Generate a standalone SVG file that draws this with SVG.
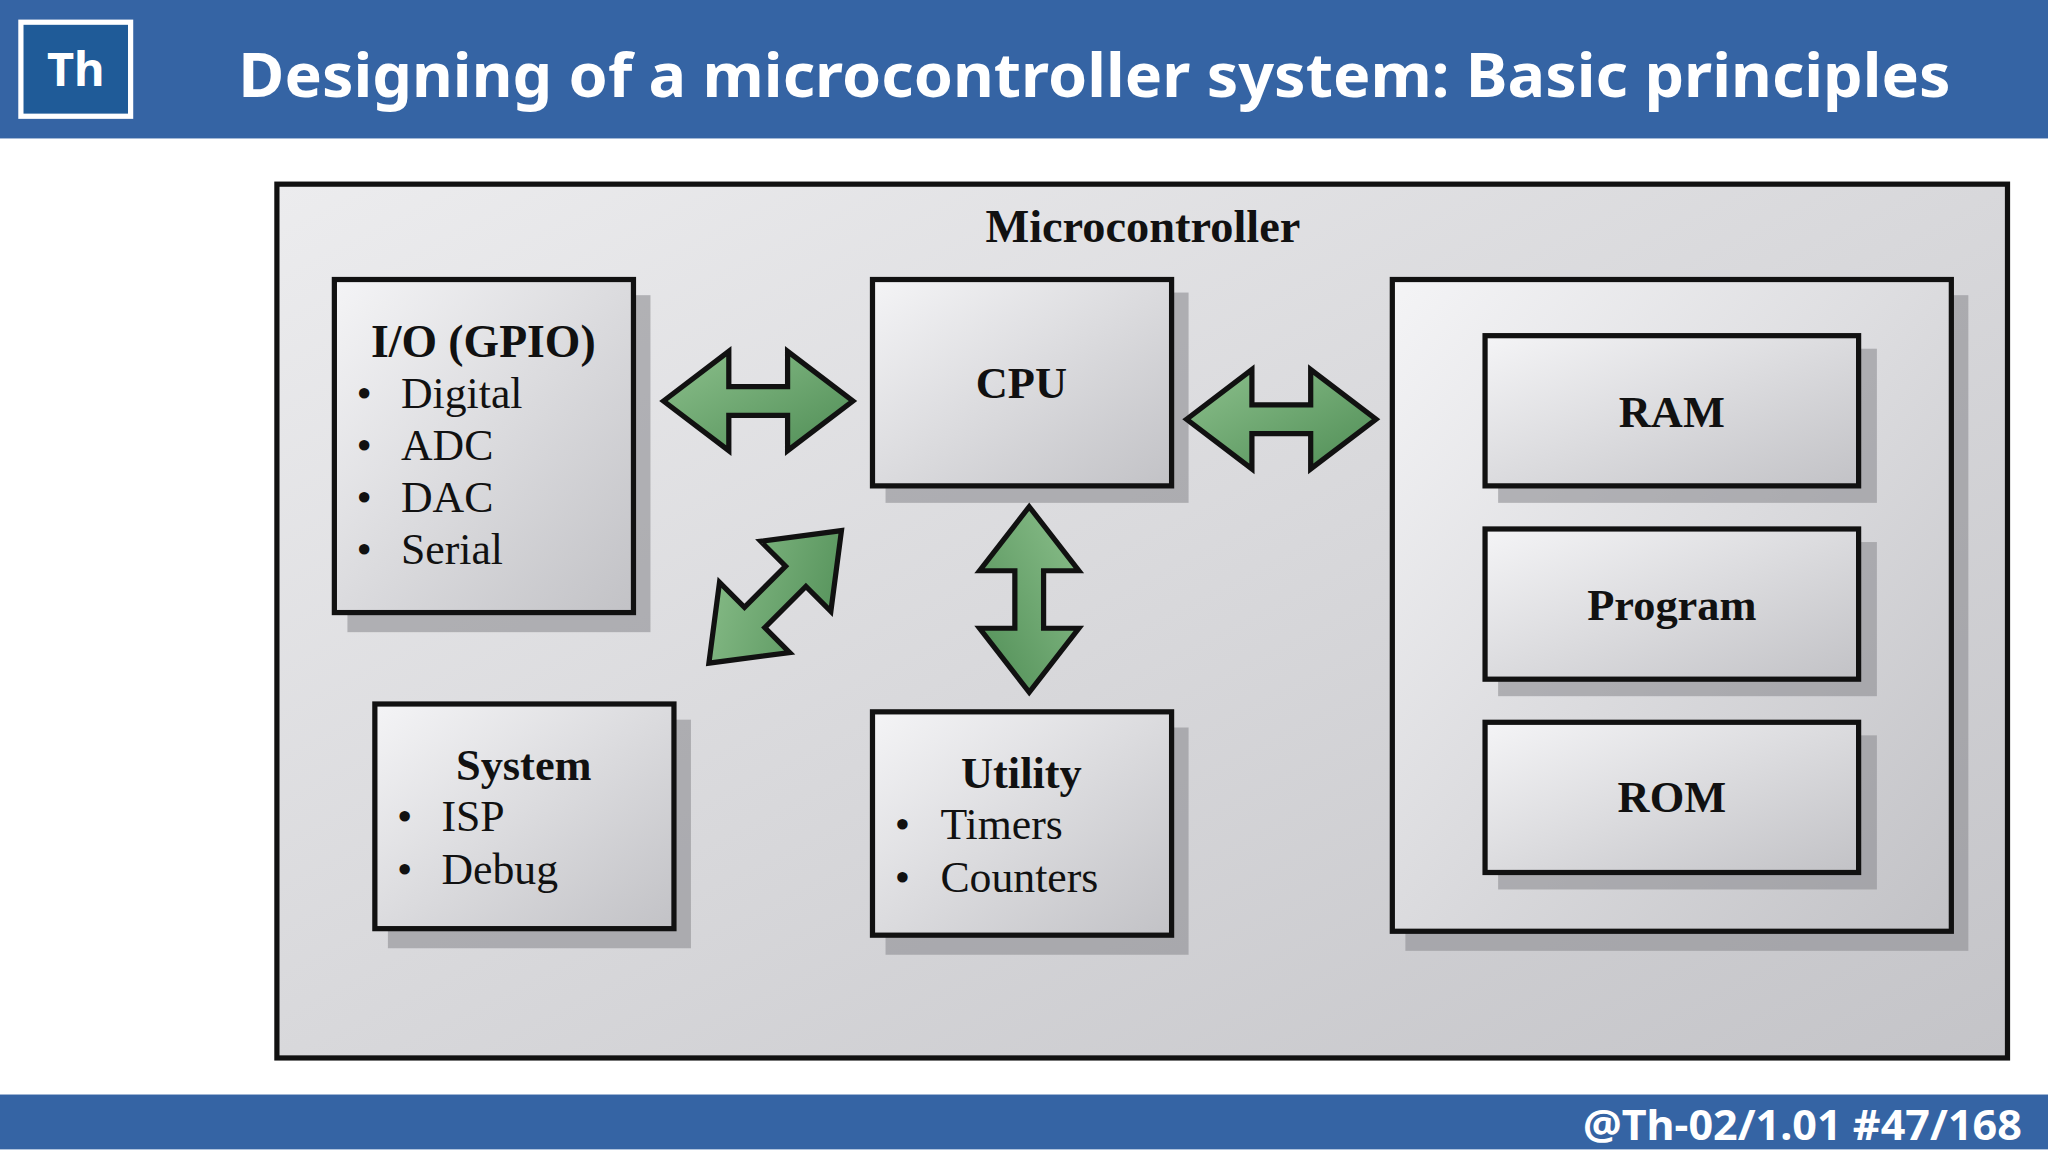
<svg xmlns="http://www.w3.org/2000/svg" width="2048" height="1150" viewBox="0 0 2048 1150">
<defs>
<linearGradient id="bg" x1="0" y1="0" x2="1" y2="1"><stop offset="0" stop-color="#ececee"/><stop offset="1" stop-color="#c4c4c8"/></linearGradient>
<linearGradient id="bx" x1="0" y1="0" x2="1" y2="1"><stop offset="0" stop-color="#f4f4f6"/><stop offset="1" stop-color="#c2c2c6"/></linearGradient>
<linearGradient id="gr" x1="0" y1="0" x2="1" y2="1"><stop offset="0" stop-color="#8cc08c"/><stop offset="1" stop-color="#4f8d55"/></linearGradient>
<path id="arr" d="M-72.5,0 L-22.5,-38 L-22.5,-11 L22.5,-11 L22.5,-38 L72.5,0 L22.5,38 L22.5,11 L-22.5,11 L-22.5,38 Z"/>
<style>
.box{fill:url(#bx);stroke:#111;stroke-width:4}
.sh{fill:#8e8e92;opacity:0.6}
.a{fill:url(#gr);stroke:#111;stroke-width:4;stroke-linejoin:miter}
.h{font-family:"Liberation Serif",serif;font-weight:bold;font-size:34px;fill:#111;text-anchor:middle}
.t{font-family:"Liberation Serif",serif;font-size:33.5px;fill:#111}
</style>
</defs>
<g transform="scale(1.30612)">
<rect width="1568" height="880" fill="#fff"/>
<g id="header">
<rect x="0" y="0" width="1568" height="106" fill="#3564a4"/>
<rect x="16" y="17" width="84" height="72" fill="#1f5b98" stroke="#fff" stroke-width="4"/>
<text x="58" y="66" font-family="Noto Sans,sans-serif" font-weight="bold" font-size="36" fill="#fff" text-anchor="middle">Th</text>
<text x="838" y="74" font-family="Noto Sans,sans-serif" font-weight="bold" font-size="46" fill="#fff" text-anchor="middle" textLength="1311" lengthAdjust="spacingAndGlyphs">Designing of a microcontroller system: Basic principles</text>
</g>
<g id="footer">
<rect x="0" y="838" width="1568" height="42" fill="#3564a4"/>
<text x="1548" y="873" font-family="Noto Sans,sans-serif" font-weight="bold" font-size="32" fill="#fff" text-anchor="end" textLength="336" lengthAdjust="spacingAndGlyphs">@Th-02/1.01 #47/168</text>
</g>
<g id="mcu">
<rect x="212" y="141" width="1325" height="669" fill="url(#bg)" stroke="#111" stroke-width="4"/>
<text class="h" x="875" y="185" style="font-size:35.5px">Microcontroller</text>
</g>
<g id="io">
<rect class="sh" x="266" y="226" width="232" height="258"/>
<rect class="box" x="256" y="214" width="229" height="255"/>
<text class="h" x="370" y="273" style="font-size:35px">I/O (GPIO)</text>
<g class="t"><text x="273" y="312">•</text><text x="307" y="312">Digital</text><text x="273" y="352">•</text><text x="307" y="352">ADC</text><text x="273" y="392">•</text><text x="307" y="392">DAC</text><text x="273" y="432">•</text><text x="307" y="432">Serial</text></g>
</g>
<g id="cpu">
<rect class="sh" x="678" y="224" width="232" height="161"/>
<rect class="box" x="668" y="214" width="229" height="158"/>
<text class="h" x="782" y="305">CPU</text>
</g>
<g id="memory">
<rect class="sh" x="1076" y="226" width="431" height="502"/>
<rect class="box" x="1066" y="214" width="428" height="499"/>
</g>
<g id="ram">
<rect class="sh" x="1147" y="267" width="290" height="118"/>
<rect class="box" x="1137" y="257" width="286" height="115"/>
<text class="h" x="1280" y="327">RAM</text>
</g>
<g id="program">
<rect class="sh" x="1147" y="415" width="290" height="118"/>
<rect class="box" x="1137" y="405" width="286" height="115"/>
<text class="h" x="1280" y="475">Program</text>
</g>
<g id="rom">
<rect class="sh" x="1147" y="563" width="290" height="118"/>
<rect class="box" x="1137" y="553" width="286" height="115"/>
<text class="h" x="1280" y="622">ROM</text>
</g>
<g id="system">
<rect class="sh" x="297" y="551" width="232" height="175"/>
<rect class="box" x="287" y="539" width="229" height="172"/>
<text class="h" x="401" y="597">System</text>
<g class="t"><text x="304" y="636">•</text><text x="338" y="636">ISP</text><text x="304" y="677">•</text><text x="338" y="677">Debug</text></g>
</g>
<g id="utility">
<rect class="sh" x="678" y="557" width="232" height="174"/>
<rect class="box" x="668" y="545" width="229" height="171"/>
<text class="h" x="782" y="603">Utility</text>
<g class="t"><text x="685" y="642">•</text><text x="720" y="642">Timers</text><text x="685" y="683">•</text><text x="720" y="683">Counters</text></g>
</g>
<g id="connectors">
<use href="#arr" class="a" transform="translate(580.5,307)"/>
<use href="#arr" class="a" transform="translate(981,321)"/>
<use href="#arr" class="a" transform="translate(788,459) rotate(90) scale(0.98,1)"/>
<use href="#arr" class="a" transform="translate(593.5,457) rotate(-45) scale(0.99,1)"/>
</g>
</g>
</svg>
